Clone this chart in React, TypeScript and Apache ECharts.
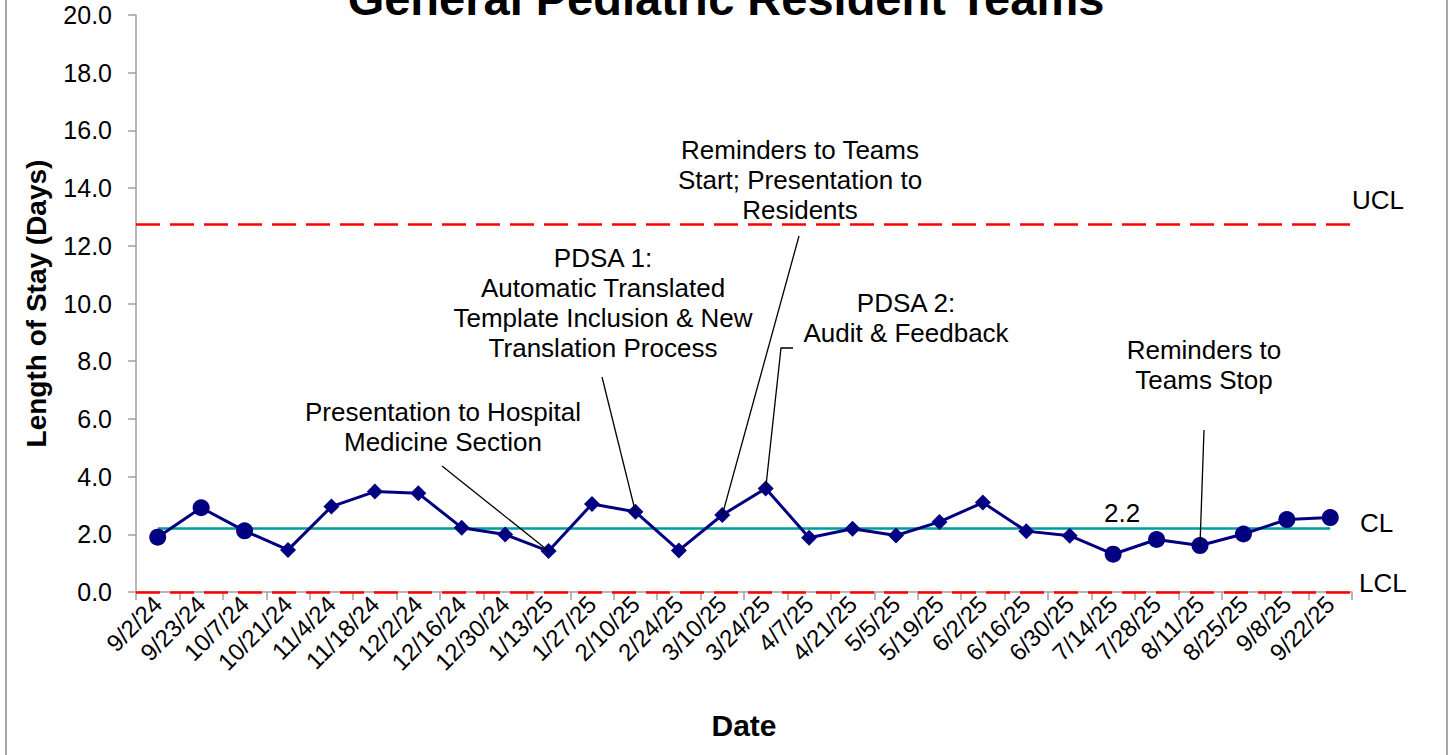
import React, { useEffect, useRef } from "react";
import * as echarts from "echarts";

const categories = [
  "9/2/24", "9/23/24", "10/7/24", "10/21/24", "11/4/24", "11/18/24", "12/2/24",
  "12/16/24", "12/30/24", "1/13/25", "1/27/25", "2/10/25", "2/24/25", "3/10/25",
  "3/24/25", "4/7/25", "4/21/25", "5/5/25", "5/19/25", "6/2/25", "6/16/25",
  "6/30/25", "7/14/25", "7/28/25", "8/11/25", "8/25/25", "9/8/25", "9/22/25",
];
const losValues = [
  1.9, 2.92, 2.12, 1.46, 2.96, 3.48, 3.42, 2.23, 1.99, 1.42, 3.05, 2.78, 1.44, 2.67,
  3.59, 1.88, 2.19, 1.96, 2.43, 3.1, 2.11, 1.95, 1.31, 1.82, 1.61, 2.01, 2.51, 2.58,
];
const phases = [
  "Baseline", "Baseline", "Baseline",
  "Intervention", "Intervention", "Intervention", "Intervention", "Intervention",
  "Intervention", "Intervention", "Intervention", "Intervention", "Intervention",
  "Intervention", "Intervention", "Intervention", "Intervention", "Intervention",
  "Intervention", "Intervention", "Intervention", "Intervention",
  "Post", "Post", "Post", "Post", "Post", "Post",
];
const centerLine = 2.2;
const upperLimit = 12.75;
const lowerLimit = 0;
const yMin = 0;
const yMax = 20;
const yInterval = 2;

const annotations = [
  { lines: ["Presentation to Hospital", "Medicine Section"], target: "1/13/25" },
  { lines: ["PDSA 1:", "Automatic Translated", "Template Inclusion & New", "Translation Process"], target: "2/10/25" },
  { lines: ["Reminders to Teams", "Start; Presentation to", "Residents"], target: "3/10/25" },
  { lines: ["PDSA 2:", "Audit & Feedback"], target: "3/24/25" },
  { lines: ["Reminders to", "Teams Stop"], target: "8/11/25" },
];

// layout of annotation boxes (pixels)
const annotationLayout = [
  { cx: 443, firstY: 412, from: [442, 466] as number[], elbow: null as number[] | null },
  { cx: 603, firstY: 258, from: [602, 377], elbow: null },
  { cx: 800, firstY: 150, from: [799, 236], elbow: null },
  { cx: 906, firstY: 303, from: [793, 348], elbow: [781, 348] },
  { cx: 1204, firstY: 350, from: [1204, 430], elbow: null },
];

const FONT = "'Liberation Sans', Arial, Helvetica, sans-serif";
const NAVY = "#000080";
const TEAL = "#009C9C";
const RED = "#FF0000";
const AXIS_GRAY = "#A0A0A0";

export default function App() {
  const ref = useRef<HTMLDivElement>(null);

  useEffect(() => {
    if (!ref.current) return;
    const chart = echarts.init(ref.current, undefined, { renderer: "svg" });

    const symbolFor = (p: string) => (p === "Intervention" ? "diamond" : "circle");

    chart.setOption({
      animation: false,
      backgroundColor: "#ffffff",
      textStyle: { fontFamily: FONT },
      title: {
        text: "General Pediatric Resident Teams",
        left: "center",
        top: -30,
        textStyle: { fontFamily: FONT, fontSize: 47, fontWeight: "bold", color: "#000" },
      },
      grid: { left: 136, right: 100, top: 15, bottom: 163, containLabel: false },
      xAxis: {
        type: "category",
        data: categories,
        boundaryGap: true,
        name: "Date",
        nameLocation: "middle",
        nameGap: 118,
        nameTextStyle: { fontFamily: FONT, fontSize: 30, fontWeight: "bold", color: "#000" },
        axisLine: { show: true, lineStyle: { color: AXIS_GRAY, width: 1.5 } },
        axisTick: { show: true, interval: 0, length: 8, inside: false, lineStyle: { color: AXIS_GRAY, width: 1.5 } },
        axisLabel: { interval: 0, rotate: 45, fontSize: 24, color: "#000", margin: 8, fontFamily: FONT },
        splitLine: { show: false },
      },
      yAxis: {
        type: "value",
        min: yMin,
        max: yMax,
        interval: yInterval,
        name: "Length of Stay (Days)",
        nameLocation: "middle",
        nameGap: 86,
        nameTextStyle: { fontFamily: FONT, fontSize: 28, fontWeight: "bold", color: "#000" },
        axisLine: { show: true, lineStyle: { color: AXIS_GRAY, width: 1.5 } },
        axisTick: { show: true, length: 8, lineStyle: { color: AXIS_GRAY, width: 1.5 } },
        axisLabel: {
          fontSize: 25,
          color: "#000",
          margin: 24,
          fontFamily: FONT,
          formatter: (v: number) => v.toFixed(1),
        },
        splitLine: { show: false },
      },
      series: [
        {
          name: "Limits",
          type: "line",
          data: [],
          silent: true,
          markLine: {
            silent: true,
            symbol: "none",
            label: { show: false },
            lineStyle: { color: RED, width: 2.5, type: [24, 10] },
            data: [{ yAxis: upperLimit }, { yAxis: lowerLimit }],
          },
        },
        {
          name: "CL",
          type: "line",
          data: categories.map(() => centerLine),
          symbol: "none",
          lineStyle: { color: TEAL, width: 2.5 },
          silent: true,
          z: 2,
        },
        {
          name: "Length of Stay",
          type: "line",
          data: losValues.map((v, i) => ({
            value: v,
            symbol: symbolFor(phases[i]),
            symbolSize: phases[i] === "Intervention" ? 16 : 17,
          })),
          lineStyle: { color: NAVY, width: 3 },
          itemStyle: { color: NAVY },
          showAllSymbol: true,
          z: 3,
        },
      ],
    });

    const px = (cat: string, v: number) =>
      chart.convertToPixel({ xAxisIndex: 0, yAxisIndex: 0 }, [cat, v]) as number[];

    const graphics: any[] = [];
    graphics.push({
      type: "rect",
      shape: { x: 6, y: -10, width: 1441, height: 780 },
      style: { fill: "none", stroke: "#A6A6A6", lineWidth: 2 },
      silent: true,
      z: 100,
    });

    annotations.forEach((a, i) => {
      const lay = annotationLayout[i];
      const idx = categories.indexOf(a.target);
      const pt = px(a.target, losValues[idx]);
      graphics.push({
        type: "text",
        x: lay.cx,
        y: lay.firstY - 15,
        style: {
          text: a.lines.join("\n"),
          fontFamily: FONT,
          fontSize: 26,
          lineHeight: 30,
          fill: "#000",
          align: "center",
          verticalAlign: "top",
        },
        z: 50,
      });
      const pts = [lay.from];
      if (lay.elbow) pts.push(lay.elbow);
      pts.push(pt);
      graphics.push({
        type: "polyline",
        shape: { points: pts },
        style: { stroke: "#000", lineWidth: 1.3, fill: "none" },
        z: 50,
      });
    });

    const xLast = categories[categories.length - 1];
    const ucl = px(xLast, upperLimit);
    const cl = px(xLast, centerLine);
    const lcl = px(xLast, lowerLimit);
    const labelStyle = { fontFamily: FONT, fontSize: 26, fill: "#000", verticalAlign: "middle" };
    graphics.push({ type: "text", x: 1352, y: ucl[1] - 24, style: { ...labelStyle, text: "UCL", align: "left" } });
    graphics.push({ type: "text", x: 1360, y: cl[1] - 6, style: { ...labelStyle, text: "CL", align: "left" } });
    graphics.push({ type: "text", x: 1359, y: lcl[1] - 9, style: { ...labelStyle, text: "LCL", align: "left" } });
    const clLabelPt = px("7/14/25", centerLine);
    graphics.push({
      type: "text",
      x: clLabelPt[0] + 9,
      y: clLabelPt[1] - 16,
      style: { ...labelStyle, text: String(centerLine), align: "center" },
    });

    chart.setOption({ graphic: graphics });

    return () => chart.dispose();
  }, []);

  return (
    <div
      ref={ref}
      style={{ position: "fixed", left: 0, top: 0, width: 1452, height: 755, background: "#fff" }}
    />
  );
}
